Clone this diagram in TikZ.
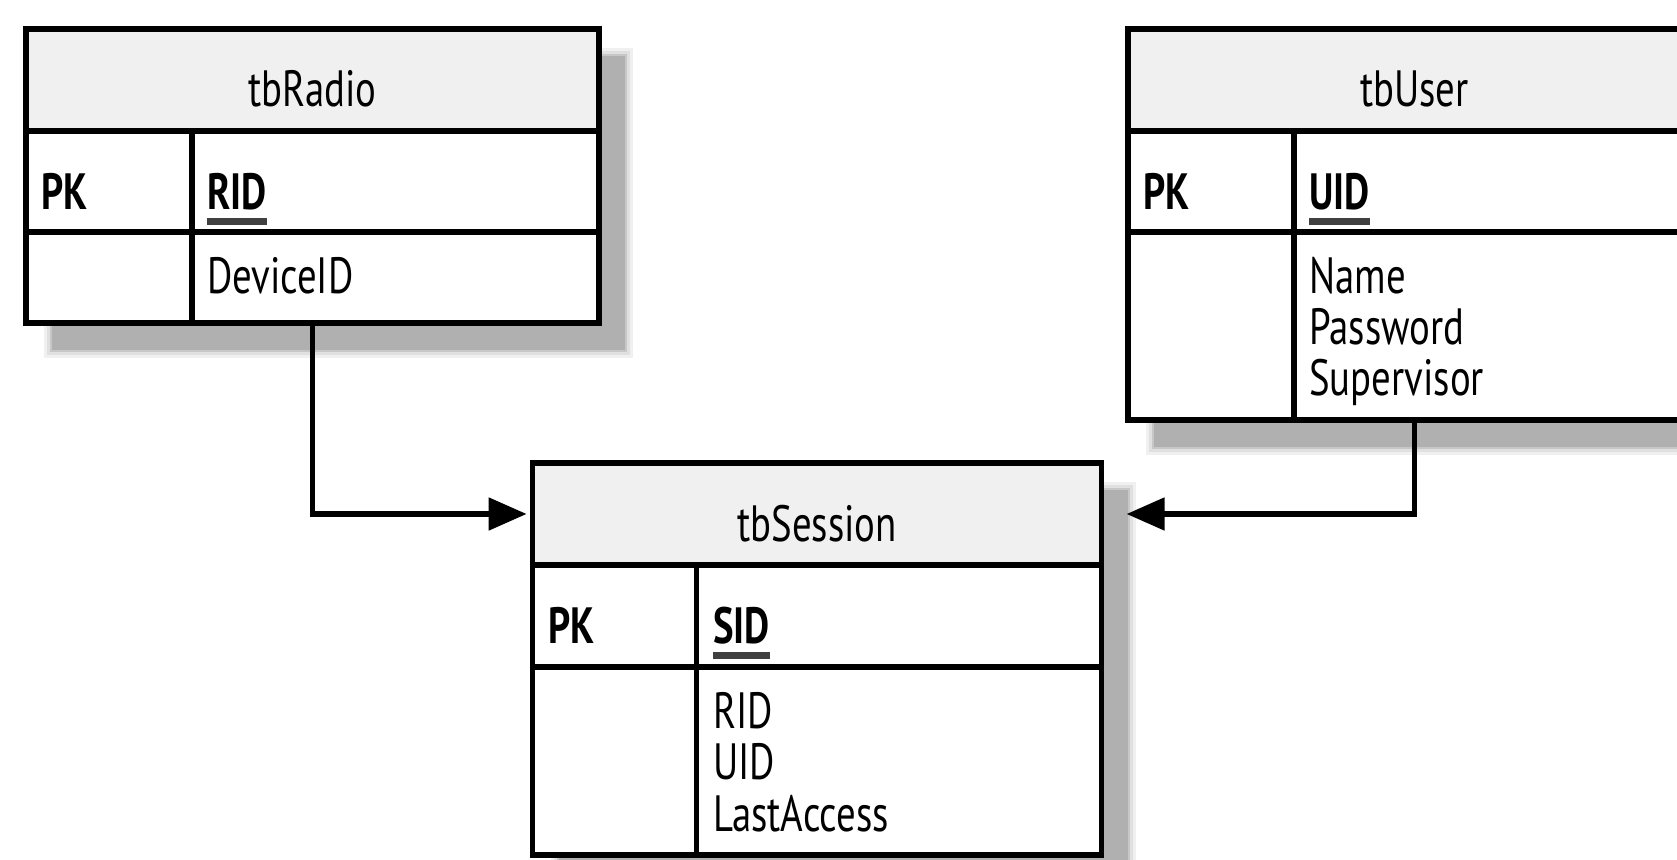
\documentclass[tikz,border=0pt]{standalone}
\usepackage{fontspec}
\setmainfont[FakeStretch=0.76]{PT Sans}
\usepackage{tikz}
\usetikzlibrary{arrows.meta,backgrounds,calc,positioning}
\definecolor{hdrgray}{HTML}{F0F0F0}
\definecolor{ulgray}{HTML}{404040}
\tikzset{
  hdr/.style={draw,fill=hdrgray,line width=2.8pt,minimum width=#1,minimum height=51pt,inner sep=0pt,outer sep=0pt},
  tblrow/.style={draw,fill=white,line width=2.8pt,minimum width=#1,inner sep=0pt,outer sep=0pt},
  txt/.style={inner sep=0pt,font=\fontsize{25.5}{25.5}\selectfont},
  keytxt/.style={inner sep=0pt,font=\fontsize{25.5}{25.5}\selectfont\bfseries},
  ul/.style={ulgray,line width=3.5pt},
  link/.style={line width=2.6pt,-{Triangle[length=19pt,width=16pt]}},
}
\begin{document}
\begin{tikzpicture}[x=0.5pt,y=-0.5pt]
\path[use as bounding box] (0,0) rectangle (1677,860);
\clip (0,0) rectangle (1677,860);

\node[hdr=286.5pt] (radio-h) at (312.4,80) {};
\node[tblrow=286.5pt,minimum height=50.5pt,below=0pt of radio-h] (radio-k) {};
\node[tblrow=286.5pt,minimum height=45.5pt,below=0pt of radio-k] (radio-f) {};
\draw[line width=2.8pt] ($(radio-k.north west)+(166,0)$) -- ($(radio-f.south west)+(166,0)$);
\node[txt,anchor=base] (radio-t) at ($(radio-h.north)+(0,78)$) {tbRadio};
\node[keytxt,anchor=base west] (radio-pk) at ($(radio-k.north west)+(15,78.5)$) {PK};
\node[keytxt,anchor=base west] (radio-id) at ($(radio-k.north west)+(181,78.5)$) {RID};
\draw[ul] ($(radio-id.base west)+(0,12)$) -- ($(radio-id.base east)+(0,12)$);
\node[txt,anchor=base west] (radio-f1) at ($(radio-f.north west)+(181,62)$) {DeviceID};

\node[hdr=286.5pt] (user-h) at (1414.5,80) {};
\node[tblrow=286.5pt,minimum height=50.5pt,below=0pt of user-h] (user-k) {};
\node[tblrow=286.5pt,minimum height=94pt,below=0pt of user-k] (user-f) {};
\draw[line width=2.8pt] ($(user-k.north west)+(166,0)$) -- ($(user-f.south west)+(166,0)$);
\node[txt,anchor=base] (user-t) at ($(user-h.north)+(0,78)$) {tbUser};
\node[keytxt,anchor=base west] (user-pk) at ($(user-k.north west)+(15,78.5)$) {PK};
\node[keytxt,anchor=base west] (user-id) at ($(user-k.north west)+(181,78.5)$) {UID};
\draw[ul] ($(user-id.base west)+(0,12)$) -- ($(user-id.base east)+(0,12)$);
\foreach \f [count=\i] in {Name,Password,Supervisor}
  \node[txt,anchor=base west] (user-f\i) at ($(user-f.north west)+(181,11+51*\i)$) {\f};

\node[hdr=284.5pt] (session-h) at (817.1,514) {};
\node[tblrow=284.5pt,minimum height=51pt,below=0pt of session-h] (session-k) {};
\node[tblrow=284.5pt,minimum height=94pt,below=0pt of session-k] (session-f) {};
\draw[line width=2.8pt] ($(session-k.north west)+(164,0)$) -- ($(session-f.south west)+(164,0)$);
\node[txt,anchor=base] (session-t) at ($(session-h.north)+(0,79)$) {tbSession};
\node[keytxt,anchor=base west] (session-pk) at ($(session-k.north west)+(15,79)$) {PK};
\node[keytxt,anchor=base west] (session-id) at ($(session-k.north west)+(180,79)$) {SID};
\draw[ul] ($(session-id.base west)+(0,12)$) -- ($(session-id.base east)+(0,12)$);
\foreach \f [count=\i] in {RID,UID,LastAccess}
  \node[txt,anchor=base west] (session-f\i) at ($(session-f.north west)+(180,11+51*\i)$) {\f};

\begin{scope}[on background layer]
\foreach \t in {radio,user,session}
  \foreach \e/\c in {8/6,5/12,2/22,0/31}
    \fill[black!\c] ($(\t-h.north west)+(26-\e,27-\e)$) rectangle ($(\t-f.south east)+(26+\e,27+\e)$);
\end{scope}

\draw[link,shorten >=3pt] (radio-f.south) |- (session-h.west);
\draw[link,shorten >=12.5pt] (user-f.south) |- (session-h.east);
\end{tikzpicture}
\end{document}
